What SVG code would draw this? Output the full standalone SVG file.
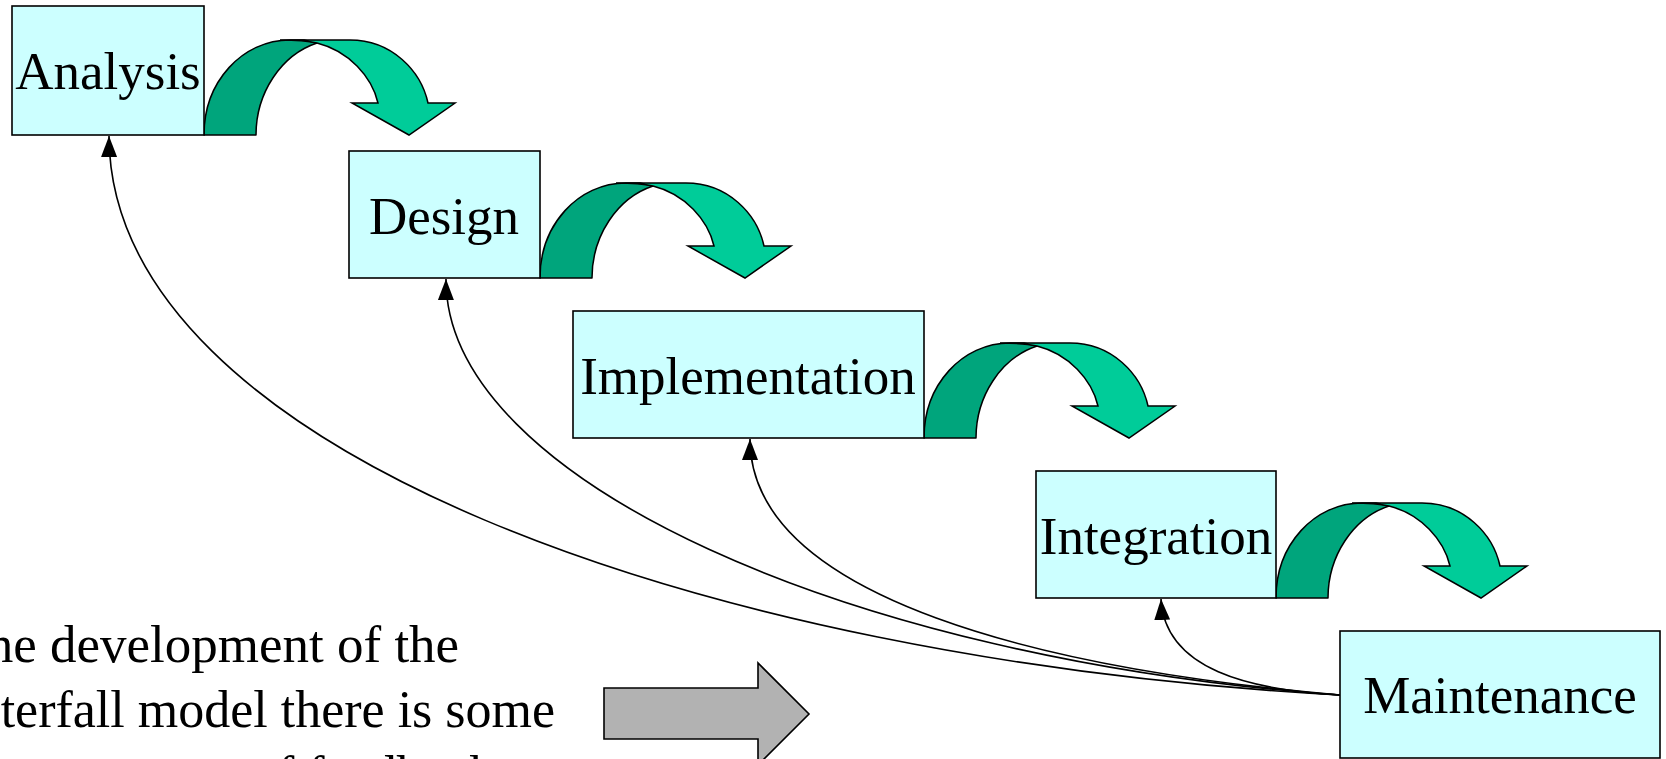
<svg xmlns="http://www.w3.org/2000/svg" xmlns:xlink="http://www.w3.org/1999/xlink" width="1666" height="759" viewBox="0 0 1666 759">
<style>
.box{fill:#CCFFFF;stroke:#000;stroke-width:1.6}
.lbl{font-family:"Liberation Serif","Times New Roman",serif;font-size:53px;fill:#000;text-anchor:middle}
.body{font-family:"Liberation Serif","Times New Roman",serif;font-size:52px;fill:#000}
.dark{fill:#00A57C;stroke:#000;stroke-width:1.5;stroke-linejoin:round}
.light{fill:#00CC99;stroke:#000;stroke-width:1.5;stroke-linejoin:miter}
.fb{fill:none;stroke:#000;stroke-width:1.6;marker-end:url(#ah)}
</style>
<defs>
<marker id="ah" viewBox="0 0 21 16" refX="21" refY="8" markerWidth="21" markerHeight="16" markerUnits="userSpaceOnUse" orient="auto">
<path d="M0,0 L21,8 L0,16 Z" fill="#000"/>
</marker>
<g id="bend">
<path class="dark" d="M0,0 C0,-53 38,-95 86,-95 L100,-95 L113,-92 C77,-80 52,-42 52,0 Z"/>
<path class="light" d="M76,-95 L146,-95 C188,-95 217,-64 224,-32 L251,-32 L205,0 L148,-32 L174,-32 C168,-58 145,-84 113,-92 C100,-95 88,-95 76,-95 Z"/>
</g>
</defs>
<rect width="1666" height="759" fill="#fff"/>

<g id="bends">
<use xlink:href="#bend" x="204" y="135"/>
<use xlink:href="#bend" x="540" y="278"/>
<use xlink:href="#bend" x="924" y="438"/>
<use xlink:href="#bend" x="1276" y="598"/>
</g>

<g id="analysis">
<rect class="box" x="12" y="6" width="192" height="129"/>
<text class="lbl" x="108" y="89">Analysis</text>
</g>
<g id="design">
<rect class="box" x="349" y="151" width="191" height="127"/>
<text class="lbl" x="444" y="234">Design</text>
</g>
<g id="implementation">
<rect class="box" x="573" y="311" width="351" height="127"/>
<text class="lbl" x="748" y="394">Implementation</text>
</g>
<g id="integration">
<rect class="box" x="1036" y="471" width="240" height="127"/>
<text class="lbl" x="1156" y="554">Integration</text>
</g>
<g id="maintenance">
<rect class="box" x="1340" y="631" width="320" height="127"/>
<text class="lbl" x="1500" y="713">Maintenance</text>
</g>

<g id="connectors">
<path class="fb" d="M1340,695 C700,660 110,450 109,136"/>
<path class="fb" d="M1340,695 C850,660 445,480 446,279"/>
<path class="fb" d="M1340,695 C1050,670 750,600 750,439"/>
<path class="fb" d="M1340,695 C1250,690 1165,670 1161,599"/>
</g>

<g id="note">
<text class="body" x="-28" y="662" style="font-size:53px">the development of the</text>
<text class="body" x="-60" y="727">waterfall model there is some</text>
<text class="body" x="251" y="792">of feedback</text>
<path d="M604,688 L758,688 L758,663 L809,714 L758,765 L758,739 L604,739 Z" fill="#B2B2B2" stroke="#000" stroke-width="1.6"/>
</g>
</svg>
